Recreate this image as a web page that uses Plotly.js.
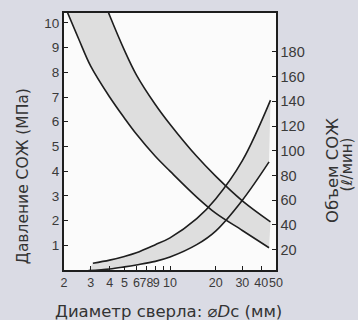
<!DOCTYPE html>
<html>
<head>
<meta charset="utf-8">
<script src="https://cdn.plot.ly/plotly-3.0.1.min.js"></script>
<style>
html,body{margin:0;padding:0;background:#dadbe4;}
#chart{width:358px;height:320px;}
</style>
</head>
<body>
<div id="chart"></div>
<script>
// Drill diameter (mm) and coolant pressure (MPa) – lower / upper bound
const diaPressLow = [2.05, 2.5, 3, 4, 5, 6, 8, 10, 15, 20, 30, 45];
const pressLow    = [10.6, 9.35, 8.25, 7.0, 6.15, 5.5, 4.6, 4.0, 2.95, 2.3, 1.6, 0.9];
const diaPressHigh = [3.8, 4, 5, 6, 8, 10, 15, 20, 30, 46];
const pressHigh    = [10.65, 10.3, 8.9, 7.9, 6.7, 5.9, 4.6, 3.8, 2.8, 1.95];

// Drill diameter (mm) and coolant flow (l/min) – lower / upper bound
const diaFlowLow = [2.9, 4, 5, 6, 8, 10, 15, 20, 30, 45];
const flowLow    = [3.0, 4.3, 6, 7.6, 10.5, 14, 24, 35, 60, 91];
const diaFlowHigh = [3.1, 4, 5, 6, 8, 10, 15, 20, 30, 46];
const flowHigh    = [9, 11.5, 14.5, 17.5, 24, 29.5, 45, 61, 92, 141];

// Tick labels
const xTicks = [2, 3, 4, 5, 6, 7, 8, 9, 10, 20, 30, 40, 50];
const xTickText = ['2', '3', '4', '5', '6', '7\u00a0\u00a0', '8\u00a0\u00a0\u00a0', '9\u00a0\u00a0\u00a0\u00a0', '10', '20', '30', '40', '50'];
const yTicks = [1, 2, 3, 4, 5, 6, 7, 8, 9, 10];
const y2Ticks = [20, 40, 60, 80, 100, 120, 140, 160, 180];

const FONT = 'Liberation Sans, Arial, Helvetica, sans-serif';
const TFONT = 'DejaVu Sans, Liberation Sans, sans-serif';
const band = '#dedede';
const ink = '#1e1e1e';
const lw = 1.6;

const traces = [
  {x: diaPressLow, y: pressLow, yaxis: 'y', mode: 'lines', line: {color: 'rgba(0,0,0,0)', width: 0, shape: 'spline'}, hoverinfo: 'skip'},
  {x: diaPressHigh, y: pressHigh, yaxis: 'y', mode: 'lines', fill: 'tonexty', fillcolor: band, line: {color: 'rgba(0,0,0,0)', width: 0, shape: 'spline'}, hoverinfo: 'skip'},
  {x: diaFlowLow, y: flowLow, yaxis: 'y2', mode: 'lines', line: {color: 'rgba(0,0,0,0)', width: 0, shape: 'spline'}, hoverinfo: 'skip'},
  {x: diaFlowHigh, y: flowHigh, yaxis: 'y2', mode: 'lines', fill: 'tonexty', fillcolor: band, line: {color: 'rgba(0,0,0,0)', width: 0, shape: 'spline'}, hoverinfo: 'skip'},
  {x: diaFlowLow, y: flowLow, yaxis: 'y2', mode: 'lines', line: {color: ink, width: lw, shape: 'spline'}},
  {x: diaFlowHigh, y: flowHigh, yaxis: 'y2', mode: 'lines', line: {color: ink, width: lw, shape: 'spline'}},
  {x: diaPressLow, y: pressLow, yaxis: 'y3', mode: 'lines', line: {color: ink, width: lw, shape: 'spline'}},
  {x: diaPressHigh, y: pressHigh, yaxis: 'y3', mode: 'lines', line: {color: ink, width: lw, shape: 'spline'}}
];

const tickFont = {family: FONT, size: 13.5, color: '#3a3a3a'};
const layout = {
  width: 358, height: 320,
  paper_bgcolor: '#dadbe4',
  plot_bgcolor: '#fbfbfb',
  showlegend: false,
  margin: {l: 64, r: 82, t: 13, b: 50, pad: 0},
  xaxis: {
    type: 'log', range: [Math.log10(2), Math.log10(50)],
    tickmode: 'array', tickvals: xTicks, ticktext: xTickText,
    ticks: 'inside', ticklen: 4, tickcolor: ink, tickwidth: 1,
    showline: true, mirror: true, linecolor: ink, linewidth: 1.6,
    showgrid: false, zeroline: false, tickfont: {family: FONT, size: 12.5, color: '#3a3a3a'}, tickangle: 0
  },
  yaxis: {
    range: [0, 10.4], tickmode: 'array', tickvals: yTicks, ticktext: yTicks.map(String),
    ticks: 'inside', ticklen: 4, tickcolor: ink, tickwidth: 1,
    showline: true, linecolor: ink, linewidth: 2,
    showgrid: false, zeroline: false, tickfont: tickFont
  },
  yaxis2: {
    overlaying: 'y', side: 'right', range: [3.5, 211.5],
    tickmode: 'array', tickvals: y2Ticks, ticktext: y2Ticks.map(String),
    ticks: 'inside', ticklen: 4, tickcolor: ink, tickwidth: 1,
    showline: true, linecolor: ink, linewidth: 1.6,
    showgrid: false, zeroline: false, tickfont: {family: FONT, size: 14.5, color: '#3a3a3a'}
  },
  yaxis3: {overlaying: 'y', range: [0, 10.4], visible: false},
  annotations: [
    {text: 'Давление СОЖ (МПа)', xref: 'paper', yref: 'paper', x: -0.192, y: 0.366,
     xanchor: 'center', yanchor: 'middle',
     textangle: -90, showarrow: false, font: {family: TFONT, size: 15.5, color: '#333'}},
    {text: 'Диаметр сверла: ⌀<i>D</i>c (мм)', xref: 'paper', yref: 'paper', x: 0.495, y: -0.16,
     xanchor: 'center', yanchor: 'middle',
     showarrow: false, font: {family: TFONT, size: 16.5, color: '#333'}},
    {text: 'Объем СОЖ', xref: 'paper', yref: 'paper', x: 1.266, y: 0.387,
     xanchor: 'center', yanchor: 'middle',
     textangle: -90, showarrow: false, font: {family: TFONT, size: 16.5, color: '#333'}},
    {text: '(<i>ℓ</i>/мин)', xref: 'paper', yref: 'paper', x: 1.333, y: 0.409,
     xanchor: 'center', yanchor: 'middle',
     textangle: -90, showarrow: false, font: {family: TFONT, size: 15, color: '#333'}}
  ]
};

Plotly.newPlot('chart', traces, layout, {staticPlot: true, displayModeBar: false});
</script>
</body>
</html>
